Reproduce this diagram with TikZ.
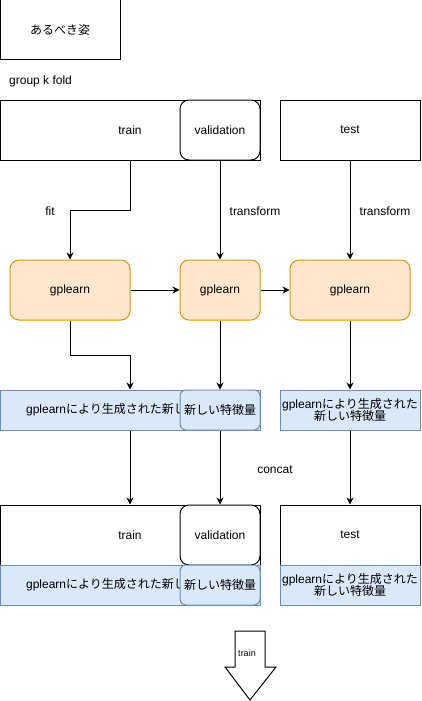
\documentclass[tikz,border=0pt]{standalone}
\usepackage{fontspec}
\setmainfont{Liberation Sans}
\newfontfamily\cjk{Noto Sans CJK JP}
\usetikzlibrary{arrows.meta,positioning}
\definecolor{ink}{HTML}{000000}
\definecolor{gpfill}{HTML}{FFE6CC}
\definecolor{gpline}{HTML}{D79B00}
\definecolor{featfill}{HTML}{DAE8FC}
\definecolor{featline}{HTML}{6C8EBF}

\tikzset{
  plainbox/.style={draw=ink,line width=1pt,fill=white,inner sep=0pt},
  foldbox/.style={plainbox,rounded corners=9pt},
  gpbox/.style={draw=gpline,fill=gpfill,line width=1pt,rounded corners=9pt,
    minimum height=60pt},
  featbox/.style={draw=featline,fill=featfill,line width=1pt,inner sep=0pt,
    minimum height=40pt,align=center},
  featpart/.style={featbox,rounded corners=6pt},
  lbl/.style={inner sep=0pt},
  flow/.style={draw=ink,line width=1pt,-{Stealth[length=7pt,width=7pt]}},
}

\begin{document}
\begin{tikzpicture}[x=1pt,y=-1pt,font=\fontsize{12}{14}\selectfont]
  \useasboundingbox[fill=white] (0,0) rectangle (421,701);

  % heading
  \node[plainbox,minimum width=120pt,minimum height=60pt] (ideal) at (60,30)
    {\cjk あるべき姿};
  \node[lbl,anchor=west] (kfold) at (9,81) {group k fold};

  % split
  \node[plainbox,minimum width=260pt,minimum height=60pt] (train1) at (130,130) {train};
  \node[foldbox,minimum width=80pt,minimum height=60pt] (valid1) at (220,130) {validation};
  \node[plainbox,minimum width=140pt,minimum height=60pt] (test1) at (350,130) {test};

  % gplearn
  \node[gpbox,minimum width=120pt] (gp1) at (70,290) {gplearn};
  \node[gpbox,minimum width=80pt] (gp2) at (220,290) {gplearn};
  \node[gpbox,minimum width=120pt] (gp3) at (350,290) {gplearn};

  % generated features
  \node[featbox,minimum width=260pt] (feat1) at (130,410)
    {gplearn{\cjk により生成された新しい特徴量}};
  \node[featpart,minimum width=80pt] (featv1) at (220,410) {\cjk 新しい特徴量};
  \node[featbox,minimum width=140pt] (featt1) at (350,410)
    {gplearn{\cjk により生成された}\\[-2pt]{\cjk 新しい特徴量}};

  % concatenated
  \node[plainbox,minimum width=260pt,minimum height=60pt] (train2) at (130,535) {train};
  \node[foldbox,minimum width=80pt,minimum height=60pt] (valid2) at (220,535) {validation};
  \node[plainbox,minimum width=140pt,minimum height=60pt] (test2) at (350,535) {test};
  \node[featbox,minimum width=260pt] (feat2) at (130,585)
    {gplearn{\cjk により生成された新しい特徴量}};
  \node[featpart,minimum width=80pt] (featv2) at (220,585) {\cjk 新しい特徴量};
  \node[featbox,minimum width=140pt] (featt2) at (350,585)
    {gplearn{\cjk により生成された}\\[-2pt]{\cjk 新しい特徴量}};

  % connectors
  \draw[flow] (train1.south) -- ++(0,50) -| (gp1.north);
  \draw[flow] (valid1.south) -- (gp2.north);
  \draw[flow] (test1.south) -- (gp3.north);
  \draw[flow] (gp1.east) -- (gp2.west);
  \draw[flow] (gp2.east) -- (gp3.west);
  \draw[flow] (gp1.south) -- ++(0,35) -| (feat1.north);
  \draw[flow] (gp2.south) -- (featv1.north);
  \draw[flow] (gp3.south) -- (featt1.north);
  \draw[flow] (feat1.south) -- (train2.north);
  \draw[flow] (featv1.south) -- (valid2.north);
  \draw[flow] (featt1.south) -- (test2.north);

  \node[lbl] (fitlbl) at (50,211) {fit};
  \node[lbl] (trlbl1) at (255,211) {transform};
  \node[lbl] (trlbl2) at (385,211) {transform};
  \node[lbl] (catlbl) at (275,470) {concat};

  % final step
  \draw[ink,line width=1pt,line join=miter,fill=white]
    (235,631) -- (265,631) -- (265,667) -- (276,667) -- (250,700)
    -- (225,667) -- (235,667) -- cycle;
  \node[lbl,font=\fontsize{9}{11}\selectfont] (steplbl) at (247,653) {train};
\end{tikzpicture}
\end{document}
